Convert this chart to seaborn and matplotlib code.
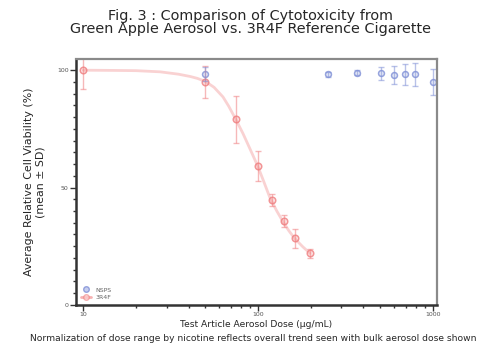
import numpy as np
import pandas as pd
import matplotlib
matplotlib.use("Agg")
import matplotlib.pyplot as plt
import seaborn as sns

# 3R4F reference cigarette
r4f_dose = [10, 50, 75, 100, 120, 140, 162, 198]
r4f_mean = [100, 95.0, 79.0, 59.0, 44.8, 35.7, 28.3, 22.0]
r4f_sd = [8.0, 6.7, 9.9, 6.4, 2.5, 2.5, 4.0, 2.0]

# NSPS (Green Apple aerosol)
nsps_dose = [50, 250, 366, 503, 601, 692, 796, 1004]
nsps_mean = [98.2, 98.3, 99.0, 98.6, 97.9, 98.3, 98.2, 95.0]
nsps_sd = [3.0, 1.0, 1.0, 2.8, 3.9, 4.4, 5.0, 5.7]

# fitted curve for 3R4F
fit_dose = [10, 15, 20, 27.5, 35, 41, 45, 50, 56, 63, 68, 75, 82, 88, 94, 100,
            108, 117, 128, 139, 150, 162, 180, 198]
fit_via = [100, 99.9, 99.8, 99.3, 98.3, 97.3, 96.5, 95.2, 92.7, 88.6, 84.6, 78.7,
           73.0, 68.0, 63.3, 58.8, 52.4, 45.6, 40.0, 35.4, 31.6, 28.3, 24.8, 22.0]

red = "#f07f80"
blue = "#7f8fd6"

df_r = pd.DataFrame({"dose": r4f_dose, "via": r4f_mean, "sd": r4f_sd})
df_n = pd.DataFrame({"dose": nsps_dose, "via": nsps_mean, "sd": nsps_sd})
df_fit = pd.DataFrame({"dose": fit_dose, "via": fit_via})

sns.set_style("white")
fig = plt.figure(figsize=(4.79, 3.48), dpi=100)
ax = fig.add_axes([0.159, 0.124, 0.753, 0.706])

sns.lineplot(data=df_fit, x="dose", y="via", ax=ax, color=red, lw=2.0, alpha=0.35, legend=False)
ax.errorbar(df_r["dose"], df_r["via"], yerr=df_r["sd"], fmt="none", ecolor=red, alpha=0.55,
            elinewidth=1, capsize=2)
ax.errorbar(df_n["dose"], df_n["via"], yerr=df_n["sd"], fmt="none", ecolor=blue, alpha=0.55,
            elinewidth=1, capsize=2)
sns.scatterplot(data=df_r, x="dose", y="via", ax=ax, marker="o", s=22, facecolor="#fcdcdc",
                edgecolor=red, linewidth=1.1, alpha=0.8)
sns.scatterplot(data=df_n, x="dose", y="via", ax=ax, marker="o", s=18, facecolor="#e2e6f6",
                edgecolor=blue, linewidth=1.1, alpha=0.8)

ax.set_xscale("log")
ax.set_xlim(9.1, 1055)
ax.set_ylim(0, 104.7)
ax.set_yticks([0, 50, 100])
ax.set_yticks(np.arange(0, 105, 5), minor=True)
ax.set_xticks([10, 100, 1000])
ax.set_xticklabels(["10", "100", "1000"])
ax.tick_params(axis="both", which="major", labelsize=4.5, labelcolor="#555555", length=4,
               width=1, color="#333333", direction="out", left=True, bottom=True, pad=1.5)
ax.tick_params(axis="both", which="minor", length=2.5, width=1, color="#333333",
               left=True, bottom=True, direction="out")

for s in ["left", "bottom"]:
    ax.spines[s].set_color("#333333")
    ax.spines[s].set_linewidth(1.8)
for s in ["top", "right"]:
    ax.spines[s].set_color("#8a8a8a")
    ax.spines[s].set_linewidth(1.6)

ax.set_xlabel("Test Article Aerosol Dose (µg/mL)", fontsize=6.6, labelpad=2)
ax.set_ylabel("Average Relative Cell Viability (%)\n(mean ± SD)", fontsize=7.9, labelpad=8)

h1 = plt.Line2D([], [], marker="o", ls="none", ms=4, mfc="#b9c2ec", mec=blue, alpha=0.8)
h2 = plt.Line2D([], [], marker="o", ls="-", lw=2, ms=4, mfc="#fbd4d4", mec=red, color=red, alpha=0.6)
leg = ax.legend([h1, h2], ["NSPS", "3R4F"], loc="lower left", fontsize=4.5, frameon=False,
                handlelength=1.6, borderaxespad=0.3, labelspacing=0.4)
for t in leg.get_texts():
    t.set_color("#666666")

fig.text(0.524, 0.975, "Fig. 3 : Comparison of Cytotoxicity from\nGreen Apple Aerosol vs. 3R4F Reference Cigarette",
         ha="center", va="top", fontsize=10.4, linespacing=0.95)
fig.text(0.062, 0.028, "Normalization of dose range by nicotine reflects overall trend seen with bulk aerosol dose shown",
         ha="left", va="center", fontsize=6.6)

fig.savefig("out.png", dpi=100)
